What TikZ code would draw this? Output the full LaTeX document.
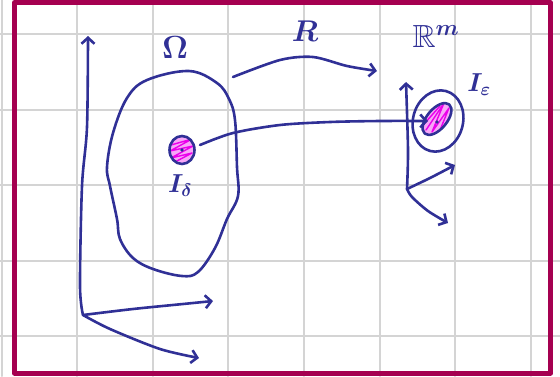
\documentclass[tikz,border=0pt]{standalone}
\usepackage{fix-cm}
\usepackage{amssymb}
\usetikzlibrary{arrows.meta}
\definecolor{pen}{RGB}{48,48,150}
\definecolor{frame}{RGB}{165,0,80}
\definecolor{hl}{RGB}{235,0,235}
\definecolor{gridc}{RGB}{212,212,212}
\begin{document}
\begin{tikzpicture}[x=1pt,y=-1pt, line cap=round, line join=round,
  ink/.style={draw=pen, line width=2.6pt},
  arr/.style={ink, -{Straight Barb[length=6pt,width=13pt,line width=2.6pt]}},
  lbl/.style={text=pen, inner sep=0pt},
  scrib/.style={draw=hl, line width=1.4pt}]
\useasboundingbox (0,0) rectangle (560,376);
% grid
\foreach \i in {0,...,7} \draw[gridc, line width=2pt] (1.5+75.64*\i,0) -- (1.5+75.64*\i,376);
\foreach \j in {0,...,4} \draw[gridc, line width=2pt] (0,34+75.6*\j) -- (560,34+75.6*\j);
% frame
\draw[frame, line width=5pt] (14.5,2.5) rectangle (550.5,373);

% left axes
\coordinate (o1) at (83,315);
\draw[arr] plot[smooth] coordinates {(o1) (80,286) (82,186) (87,127) (88,36)};
\draw[arr] plot[smooth] coordinates {(o1) (133,309) (183,304) (213,301)};
\draw[arr] plot[smooth] coordinates {(o1) (110,329) (160,349) (199,358)};

% Omega region
\draw[ink] plot[smooth cycle, tension=0.6] coordinates {(189,71) (217,83) (229,99) (235,120) (237,167) (238,196) (227,219) (215,248) (198,272) (182,276) (153,269) (133,258) (120,239) (117,219) (110,186) (107,167) (113,133) (127,98) (147,80)};
\node[lbl, font=\fontsize{32}{32}\selectfont\boldmath] (Om) at (175,48) {$\Omega$};

% small set I_delta
\coordinate (cd) at (182,150);
\begin{scope}
  \clip (cd) ellipse [x radius=12, y radius=13.5];
  \fill[hl!35] (cd) ellipse [x radius=12, y radius=13.5];
  \draw[scrib] (171,145) -- (192,139) -- (170,151) -- (193,146) -- (171,158) -- (192,153) -- (175,162);
\end{scope}
\draw[ink] (cd) ellipse [x radius=12.5, y radius=14];
\fill[pen] (cd) circle [radius=1.8];
\node[lbl, font=\fontsize{26}{26}\selectfont\boldmath] (Id) at (180,186) {$I_\delta$};

% map R
\coordinate (r0) at (233,77);
\coordinate (r1) at (377,71);
\draw[arr] plot[smooth] coordinates {(r0) (280,60) (313,57) (347,66) (r1)};
\node[lbl, font=\fontsize{30}{30}\selectfont\boldmath] (R) at (305,31) {$R$};

% R^m
\node[lbl, font=\fontsize{32}{32}\selectfont\boldmath] (Rm) at (436,36) {$\mathbb{R}^m$};

% right axes
\coordinate (o2) at (407,189);
\draw[arr] plot[smooth] coordinates {(o2) (408,150) (406,82)};
\draw[arr] plot[smooth] coordinates {(o2) (430,178) (455,165)};
\draw[arr] plot[smooth] coordinates {(o2) (412,197) (428,211) (448,223)};

% I_epsilon
\coordinate (ce) at (438,121);
\draw[ink, rotate around={-15:(ce)}] (ce) ellipse [x radius=25, y radius=31];
\coordinate (ci) at (437,119);
\begin{scope}
  \clip[rotate around={50:(ci)}] (ci) ellipse [x radius=19, y radius=10];
  \fill[hl!35] (ci) circle [radius=25];
  \draw[scrib] (426,130) -- (444,103) -- (432,132) -- (449,108) -- (438,135) -- (452,113);
  \draw[scrib] (424,124) -- (440,106);
\end{scope}
\draw[ink, rotate around={50:(ci)}] (ci) ellipse [x radius=19, y radius=10];
\fill[pen] (437,122) circle [radius=1.8];
\node[lbl, font=\fontsize{26}{26}\selectfont\boldmath] (Ie) at (479,85) {$I_\varepsilon$};

% connector from I_delta to I_epsilon
\coordinate (s1) at (200,145);
\coordinate (s2) at (428,121);
\draw[arr] plot[smooth] coordinates {(s1) (233,133) (280,125) (330,122) (380,121) (s2)};
\end{tikzpicture}
\end{document}
